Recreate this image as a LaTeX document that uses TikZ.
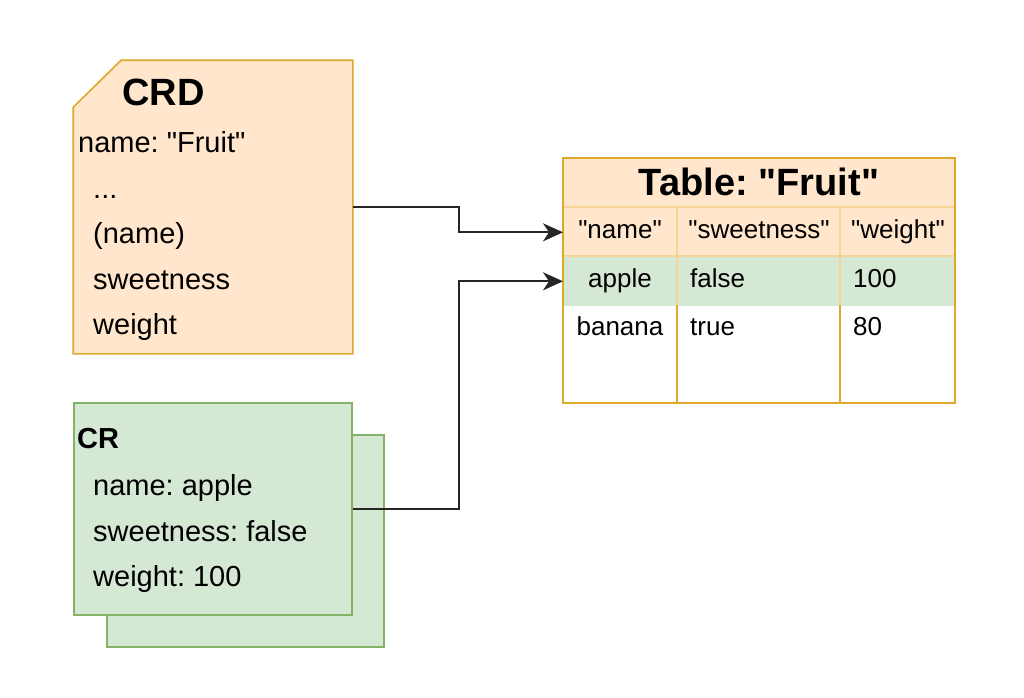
\documentclass[tikz,border=0pt]{standalone}
\usepackage{fontspec}
\setmainfont{Liberation Sans}
\usetikzlibrary{arrows.meta}
\definecolor{orfill}{HTML}{FFE6CC}
\definecolor{orline}{RGB}{222,168,42}
\definecolor{orsoft}{RGB}{245,212,150}
\definecolor{grfill}{HTML}{D5E8D4}
\definecolor{grline}{HTML}{82B366}
\newcommand{\dq}{\textquotedbl}
\tikzset{
  big/.style={font=\bfseries\fontsize{38}{44}\selectfont, inner sep=0pt},
  body/.style={font=\fontsize{29}{34}\selectfont, anchor=base west, inner sep=0pt},
  cellt/.style={font=\fontsize{26}{30}\selectfont, inner sep=0pt},
  box/.style={rectangle, inner sep=0pt, line width=1.6pt},
  conn/.style={line width=1.8pt, draw=black!85, -{Stealth[length=20pt,width=18pt,inset=6pt]}}
}
\frenchspacing
\begin{document}
\begin{tikzpicture}[x=1pt,y=-1pt]
  %%%%% START %%%%%
  \useasboundingbox[fill=white] (0,0) rectangle (1024,697);

  % CRD
  \node[box, minimum width=278pt, minimum height=292pt] (crd) at (213,207) {};
  \draw[line width=1.6pt, draw=orline, fill=orfill] (crd.south west) -- (crd.south east) -- (crd.north east)
    -- ([xshift=48pt]crd.north west) -- ([yshift=-47pt]crd.north west) -- cycle;
  \node[big, anchor=base west] (crdtitle) at (122,105) {CRD};
  \node[body] (crdname) at (78,152) {name: \dq Fruit\dq};
  \node[body] (crddots) at (93,198) {...};
  \node[body] (crdkey) at (93,243) {(name)};
  \node[body] (crdsweet) at (93,289) {sweetness};
  \node[body] (crdweight) at (93,334) {weight};

  % CR
  \node[box, draw=grline, fill=grfill, minimum width=277pt, minimum height=212pt] (crback) at (245.5,541) {};
  \node[box, draw=grline, fill=grfill, minimum width=278pt, minimum height=212pt] (cr) at (213,509) {};
  \node[body, font=\bfseries\fontsize{29}{34}\selectfont] (crtitle) at (77,448) {CR};
  \node[body] (crname) at (93,495) {name: apple};
  \node[body] (crsweet) at (93,541) {sweetness: false};
  \node[body] (crweight) at (93,586) {weight: 100};

  % Table
  \fill[white] (563,158) rectangle (955,403);
  \fill[orfill] (563,158) rectangle (955,256);
  \node[box, minimum width=114pt, minimum height=49pt, anchor=north west] (hname) at (563,207) {};
  \node[box, fill=grfill, minimum width=392pt, minimum height=49pt, anchor=north west] (applerow) at (563,256) {};
  \node[box, minimum width=114pt, minimum height=49pt, anchor=north west] (apple) at (563,256) {};
  \draw[line width=1.2pt, orsoft] (563,207) -- (955,207);
  \draw[line width=1.2pt, orsoft] (563,256) -- (955,256);
  \draw[line width=1.2pt, orsoft] (677,207) -- (677,305);
  \draw[line width=1.2pt, orsoft] (840,207) -- (840,305);
  \draw[line width=1.6pt, orline] (677,305) -- (677,403);
  \draw[line width=1.6pt, orline] (840,305) -- (840,403);
  \draw[line width=1.6pt, orline] (563,158) rectangle (955,403);

  \node[big, anchor=base] (tbltitle) at (759,195) {Table: \dq Fruit\dq};
  \node[cellt, anchor=base] (hnametxt) at (620,238) {\dq name\dq};
  \node[cellt, anchor=base] (hsweet) at (759,238) {\dq sweetness\dq};
  \node[cellt, anchor=base] (hweight) at (898,238) {\dq weight\dq};
  \node[cellt, anchor=base] (appletxt) at (620,287) {apple};
  \node[cellt, anchor=base west] (applesweet) at (690,287) {false};
  \node[cellt, anchor=base west] (appleweight) at (853,287) {100};
  \node[cellt, anchor=base] (banana) at (620,335) {banana};
  \node[cellt, anchor=base west] (bananasweet) at (690,335) {true};
  \node[cellt, anchor=base west] (bananaweight) at (853,335) {80};

  % arrows
  \draw[conn] (crd.east) -- ++(106,0) |- (hname.west);
  \draw[conn] (cr.east) -- ++(106,0) |- (apple.west);
  %%%%% END %%%%%
\end{tikzpicture}
\end{document}
